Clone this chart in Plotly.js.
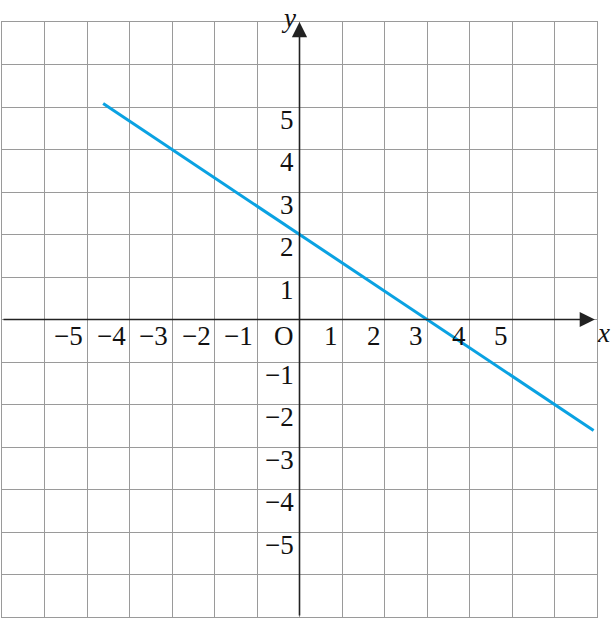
<!DOCTYPE html>
<html>
<head>
<meta charset="utf-8">
<script src="https://cdn.plot.ly/plotly-3.0.1.min.js"></script>
<style>
  html, body { margin: 0; padding: 0; background: #fff; }
  #chart { width: 611px; height: 618px; }
</style>
</head>
<body>
<div id="chart"></div>
<script>
// ---- data ----
const xTicks = [-5, -4, -3, -2, -1, 1, 2, 3, 4, 5];
const xTickLabels = ["\u22125", "\u22124", "\u22123", "\u22122", "\u22121", "1", "2", "3", "4", "5"];
const yTicks = [5, 4, 3, 2, 1, -1, -2, -3, -4, -5];
const yTickLabels = ["5", "4", "3", "2", "1", "\u22121", "\u22122", "\u22123", "\u22124", "\u22125"];
const originLabel = "O";
const lineX = [-4.62, 6.92];
const lineY = [5.08, -2.61];
const gridMin = -7;
const gridMax = 7;

const FONT = "Liberation Serif, Times New Roman, serif";
const labelFont = { family: FONT, size: 27, color: "#111" };

const annotations = [];
xTicks.forEach((v, i) => {
  annotations.push({
    x: v, y: 0, xref: "x", yref: "y", text: xTickLabels[i], showarrow: false,
    xanchor: "right", yanchor: "middle", xshift: -2, yshift: -16, font: labelFont
  });
});
yTicks.forEach((v, i) => {
  annotations.push({
    x: 0, y: v, xref: "x", yref: "y", text: yTickLabels[i], showarrow: false,
    xanchor: "right", yanchor: "middle", xshift: -4, yshift: -12.5, font: labelFont
  });
});
annotations.push({
  x: 0, y: 0, xref: "x", yref: "y", text: originLabel, showarrow: false,
  xanchor: "right", yanchor: "middle", xshift: -4, yshift: -16, font: labelFont
});
// axis arrows
annotations.push({
  x: 6.95, y: 0, ax: gridMin, ay: 0, xref: "x", yref: "y", axref: "x", ayref: "y",
  text: "", showarrow: true, arrowhead: 2, arrowsize: 1.9, arrowwidth: 1.6, arrowcolor: "#222", standoff: 0
});
annotations.push({
  x: 0, y: 7.0, ax: 0, ay: gridMin, xref: "x", yref: "y", axref: "x", ayref: "y",
  text: "", showarrow: true, arrowhead: 2, arrowsize: 1.9, arrowwidth: 1.6, arrowcolor: "#222", standoff: 0
});
// axis names
annotations.push({
  x: gridMax, y: 0, xref: "x", yref: "y", text: "<i>x</i>", showarrow: false,
  xanchor: "left", yanchor: "middle", xshift: -2, yshift: -13, font: labelFont
});
annotations.push({
  x: 0, y: gridMax, xref: "x", yref: "y", text: "<i>y</i>", showarrow: false,
  xanchor: "right", yanchor: "middle", xshift: -2, yshift: 4, font: labelFont
});

const trace = {
  x: lineX, y: lineY, type: "scatter", mode: "lines",
  line: { color: "#0aa2e2", width: 3 }, hoverinfo: "skip", cliponaxis: false
};

const axisCommon = {
  range: [gridMin, gridMax], dtick: 1, tick0: 0, showgrid: true,
  gridcolor: "#9a9a9a", gridwidth: 1, zeroline: false, showticklabels: false,
  ticks: "", showline: true, mirror: true, linecolor: "#9a9a9a", linewidth: 1, fixedrange: true
};

const layout = {
  width: 611, height: 618,
  margin: { l: 2, r: 14, t: 22, b: 1, pad: 0 },
  paper_bgcolor: "#fff", plot_bgcolor: "#fff",
  showlegend: false,
  xaxis: Object.assign({}, axisCommon),
  yaxis: Object.assign({}, axisCommon),
  annotations: annotations
};

Plotly.newPlot("chart", [trace], layout, { staticPlot: true, displayModeBar: false });
</script>
</body>
</html>
